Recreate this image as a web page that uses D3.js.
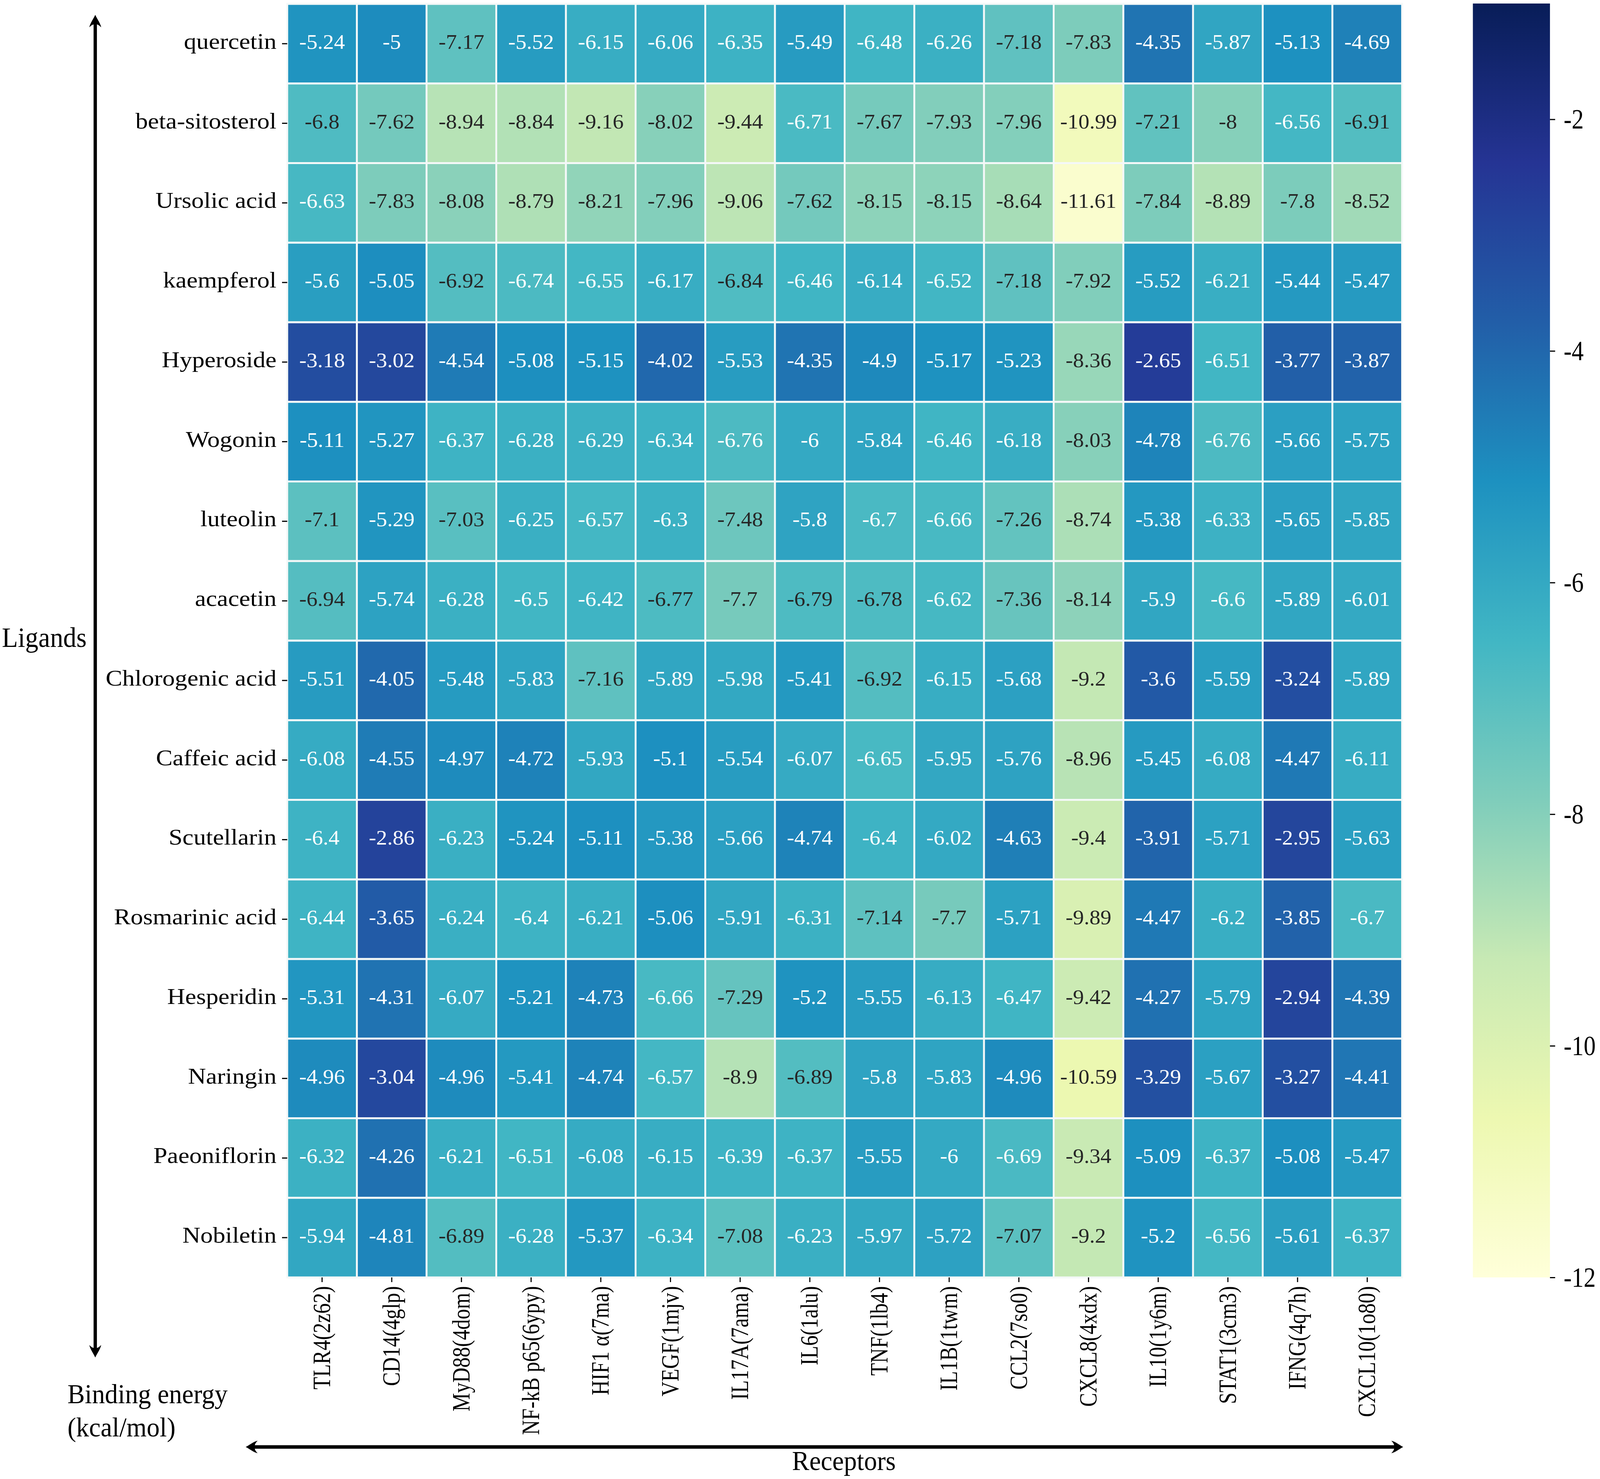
<!DOCTYPE html>
<html>
<head>
<meta charset="utf-8">
<script src="https://cdn.jsdelivr.net/npm/d3@7"></script>
<style>
  html, body { margin: 0; padding: 0; background: #fff; overflow: hidden; }
  svg { display: block; }
  text { font-family: "Liberation Serif", serif; }
</style>
</head>
<body>
<script>
const ligands = ['quercetin', 'beta-sitosterol', 'Ursolic acid', 'kaempferol', 'Hyperoside', 'Wogonin',
  'luteolin', 'acacetin', 'Chlorogenic acid', 'Caffeic acid', 'Scutellarin', 'Rosmarinic acid',
  'Hesperidin', 'Naringin', 'Paeoniflorin', 'Nobiletin'];

const receptors = ['TLR4(2z62)', 'CD14(4glp)', 'MyD88(4dom)', 'NF-kB p65(6ypy)', 'HIF1 α(7ma)', 'VEGF(1mjv)',
  'IL17A(7ama)', 'IL6(1alu)', 'TNF(1lb4)', 'IL1B(1twm)', 'CCL2(7so0)', 'CXCL8(4xdx)', 'IL10(1y6m)',
  'STAT1(3cm3)', 'IFNG(4q7h)', 'CXCL10(1o80)'];

const energies = [
  [-5.24, -5, -7.17, -5.52, -6.15, -6.06, -6.35, -5.49, -6.48, -6.26, -7.18, -7.83, -4.35, -5.87, -5.13, -4.69],
  [-6.8, -7.62, -8.94, -8.84, -9.16, -8.02, -9.44, -6.71, -7.67, -7.93, -7.96, -10.99, -7.21, -8, -6.56, -6.91],
  [-6.63, -7.83, -8.08, -8.79, -8.21, -7.96, -9.06, -7.62, -8.15, -8.15, -8.64, -11.61, -7.84, -8.89, -7.8, -8.52],
  [-5.6, -5.05, -6.92, -6.74, -6.55, -6.17, -6.84, -6.46, -6.14, -6.52, -7.18, -7.92, -5.52, -6.21, -5.44, -5.47],
  [-3.18, -3.02, -4.54, -5.08, -5.15, -4.02, -5.53, -4.35, -4.9, -5.17, -5.23, -8.36, -2.65, -6.51, -3.77, -3.87],
  [-5.11, -5.27, -6.37, -6.28, -6.29, -6.34, -6.76, -6, -5.84, -6.46, -6.18, -8.03, -4.78, -6.76, -5.66, -5.75],
  [-7.1, -5.29, -7.03, -6.25, -6.57, -6.3, -7.48, -5.8, -6.7, -6.66, -7.26, -8.74, -5.38, -6.33, -5.65, -5.85],
  [-6.94, -5.74, -6.28, -6.5, -6.42, -6.77, -7.7, -6.79, -6.78, -6.62, -7.36, -8.14, -5.9, -6.6, -5.89, -6.01],
  [-5.51, -4.05, -5.48, -5.83, -7.16, -5.89, -5.98, -5.41, -6.92, -6.15, -5.68, -9.2, -3.6, -5.59, -3.24, -5.89],
  [-6.08, -4.55, -4.97, -4.72, -5.93, -5.1, -5.54, -6.07, -6.65, -5.95, -5.76, -8.96, -5.45, -6.08, -4.47, -6.11],
  [-6.4, -2.86, -6.23, -5.24, -5.11, -5.38, -5.66, -4.74, -6.4, -6.02, -4.63, -9.4, -3.91, -5.71, -2.95, -5.63],
  [-6.44, -3.65, -6.24, -6.4, -6.21, -5.06, -5.91, -6.31, -7.14, -7.7, -5.71, -9.89, -4.47, -6.2, -3.85, -6.7],
  [-5.31, -4.31, -6.07, -5.21, -4.73, -6.66, -7.29, -5.2, -5.55, -6.13, -6.47, -9.42, -4.27, -5.79, -2.94, -4.39],
  [-4.96, -3.04, -4.96, -5.41, -4.74, -6.57, -8.9, -6.89, -5.8, -5.83, -4.96, -10.59, -3.29, -5.67, -3.27, -4.41],
  [-6.32, -4.26, -6.21, -6.51, -6.08, -6.15, -6.39, -6.37, -5.55, -6, -6.69, -9.34, -5.09, -6.37, -5.08, -5.47],
  [-5.94, -4.81, -6.89, -6.28, -5.37, -6.34, -7.08, -6.23, -5.97, -5.72, -7.07, -9.2, -5.2, -6.56, -5.61, -6.37]
];

const colorTicks = [-2, -4, -6, -8, -10, -12];
// matplotlib YlGnBu anchors, low energy (pale) to high energy (navy)
const palette = ['#ffffd9', '#edf8b1', '#c7e9b4', '#7fcdbb', '#41b6c4', '#1d91c0', '#225ea8', '#253494', '#081d58'];
const colorDomain = [-12, -1];

const width = 4317;
const height = 3786;

// the browser may clamp the window narrower than asked, so fit the whole drawing into what we got
const svg = d3.select('body').append('svg')
  .attr('width', Math.min(width, window.innerWidth))
  .attr('height', height)
  .attr('viewBox', [0, 0, width, height])
  .attr('preserveAspectRatio', 'none');

const x = d3.scaleBand().domain(receptors).range([775, 3783]);
const y = d3.scaleBand().domain(ligands).range([10, 3270]);

const color = d3.scaleLinear()
  .domain(d3.quantize(d3.interpolate(colorDomain[0], colorDomain[1]), palette.length))
  .range(palette);

// same rule seaborn uses to pick annotation colour
function luminance(c) {
  const rgb = d3.rgb(c);
  const f = v => {
    v /= 255;
    return v <= 0.03928 ? v / 12.92 : Math.pow((v + 0.055) / 1.055, 2.4);
  };
  return 0.2126 * f(rgb.r) + 0.7152 * f(rgb.g) + 0.0722 * f(rgb.b);
}

const cells = energies.flatMap((row, i) => row.map((value, j) => ({
  ligand: ligands[i],
  receptor: receptors[j],
  value
})));

const cell = svg.append('g')
  .attr('class', 'cells')
  .selectAll('g')
  .data(cells)
  .enter()
  .append('g')
    .attr('transform', d => `translate(${x(d.receptor)},${y(d.ligand)})`);

cell.append('rect')
  .attr('width', x.bandwidth())
  .attr('height', y.bandwidth())
  .attr('fill', d => color(d.value))
  .attr('stroke', '#f4f8f8')
  .attr('stroke-width', 5);

cell.append('text')
  .attr('transform', `translate(${x.bandwidth() / 2},${y.bandwidth() / 2}) scale(1.14,1)`)
  .attr('text-anchor', 'middle')
  .attr('dy', '0.25em')
  .attr('font-size', 52)
  .attr('fill', d => luminance(color(d.value)) > 0.408 ? '#262626' : '#fff')
  .text(d => d.value);

// left axis
const yAxis = svg.append('g')
  .attr('transform', 'translate(775,0)')
  .call(d3.axisLeft(y).tickSize(14).tickPadding(0));
yAxis.select('.domain').remove();
yAxis.selectAll('line').attr('stroke', '#000').attr('stroke-width', 3);
yAxis.selectAll('text')
  .attr('transform', 'scale(1.2,1)')
  .attr('x', -29 / 1.2)
  .attr('dy', '0.23em')
  .attr('font-size', 56)
  .attr('fill', '#000');

// bottom axis
const xAxis = svg.append('g')
  .attr('transform', 'translate(0,3270)')
  .call(d3.axisBottom(x).tickSize(12).tickPadding(0));
xAxis.select('.domain').remove();
xAxis.selectAll('line').attr('stroke', '#000').attr('stroke-width', 3);
xAxis.selectAll('text')
  .attr('transform', 'scale(1.26,1) rotate(-90)')
  .attr('text-anchor', 'end')
  .attr('x', -22)
  .attr('y', 0)
  .attr('dy', '0.32em')
  .attr('font-size', 53)
  .attr('fill', '#000');

// colour bar
const defs = svg.append('defs');
const gradient = defs.append('linearGradient')
  .attr('id', 'bar')
  .attr('x1', 0).attr('y1', 1)
  .attr('x2', 0).attr('y2', 0);
gradient.selectAll('stop')
  .data(palette)
  .enter()
  .append('stop')
    .attr('offset', (d, i) => i / (palette.length - 1))
    .attr('stop-color', d => d);

const barScale = d3.scaleLinear().domain(colorDomain).range([3270, 9]);

svg.append('rect')
  .attr('x', 3974)
  .attr('y', barScale(colorDomain[1]))
  .attr('width', 208)
  .attr('height', barScale(colorDomain[0]) - barScale(colorDomain[1]))
  .attr('fill', 'url(#bar)');

const barAxis = svg.append('g')
  .attr('transform', 'translate(4182,0)')
  .call(d3.axisRight(barScale).tickValues(colorTicks).tickSize(14).tickPadding(0).tickFormat(d => String(d)));
barAxis.select('.domain').remove();
barAxis.selectAll('line').attr('stroke', '#000').attr('stroke-width', 3);
barAxis.selectAll('text')
  .attr('transform', 'scale(0.9,1)')
  .attr('x', 37 / 0.9)
  .attr('dy', '0.32em')
  .attr('font-size', 72)
  .attr('fill', '#000');

// double headed axis arrows
function head(tipX, tipY, angle) {
  svg.append('path')
    .attr('transform', `translate(${tipX},${tipY}) rotate(${angle})`)
    .attr('d', 'M0,0 C6,12 14,22 16,32 C10,26 6,24 0,24 C-6,24 -10,26 -16,32 C-14,22 -6,12 0,0Z')
    .attr('fill', '#000');
}

svg.append('line')
  .attr('x1', 257).attr('y1', 50)
  .attr('x2', 257).attr('y2', 3463)
  .attr('stroke', '#000').attr('stroke-width', 9);
head(257, 38, 0);
head(257, 3475, 180);

svg.append('line')
  .attr('x1', 675).attr('y1', 3704)
  .attr('x2', 3774).attr('y2', 3704)
  .attr('stroke', '#000').attr('stroke-width', 9);
head(663, 3704, -90);
head(3786, 3704, 90);

// free labels
const labels = [
  { text: 'Ligands', px: 5, py: 1656, size: 71 },
  { text: 'Binding energy', px: 182, py: 3592, size: 70 },
  { text: '(kcal/mol)', px: 182, py: 3677, size: 70 },
  { text: 'Receptors', px: 2137, py: 3763, size: 70 }
];

svg.append('g')
  .selectAll('text')
  .data(labels)
  .enter()
  .append('text')
    .attr('x', d => d.px)
    .attr('y', d => d.py)
    .attr('font-size', d => d.size)
    .attr('fill', '#000')
    .text(d => d.text);
</script>
</body>
</html>
